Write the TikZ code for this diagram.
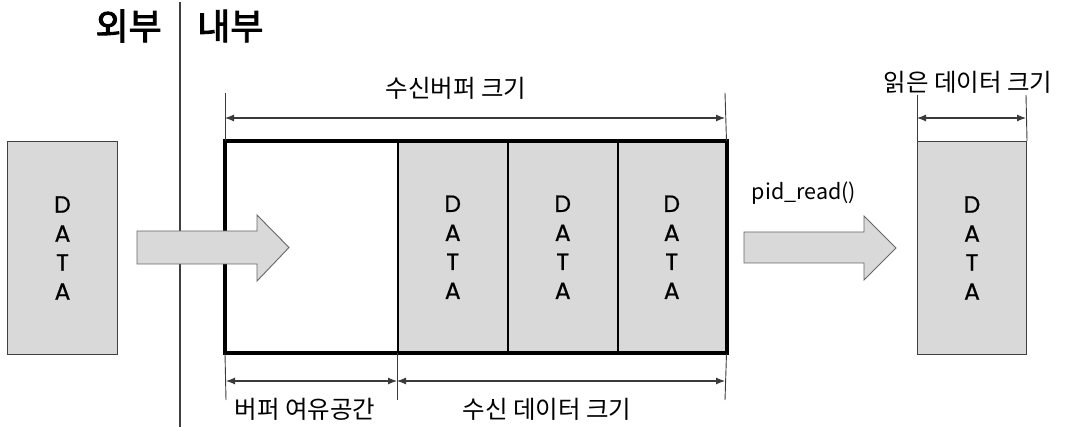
\documentclass[tikz,border=0pt]{standalone}
\usepackage{fontspec}
\setmainfont{Noto Sans CJK KR}
\newfontfamily\krbold[FakeBold=2.5]{Noto Sans CJK KR}
\newfontfamily\datafont[FakeBold=0.6]{Poppins}
\usetikzlibrary{arrows.meta}
\definecolor{boxgray}{HTML}{D9D9D9}
\definecolor{edgegray}{HTML}{404040}
\definecolor{linegray}{HTML}{3A3A3A}
\tikzset{
  databox/.style={draw=edgegray, fill=boxgray, line width=1pt, align=center,
    font=\datafont\fontsize{23.5}{29}\selectfont, inner sep=0pt, anchor=north west},
  emptycell/.style={draw=black, fill=white, line width=1.5pt, inner sep=0pt, anchor=north west},
  blockarrow/.style={draw=edgegray!80, fill=boxgray, line width=0.9pt, line join=miter},
  extline/.style={draw=linegray, line width=0.9pt},
  dimline/.style={draw=linegray, line width=1.1pt, {Latex[length=9pt,width=7pt]}-{Latex[length=9pt,width=7pt]}, shorten <=0pt, shorten >=0pt},
  lbl/.style={font=\fontsize{24.5}{27}\selectfont, inner sep=0pt, text=black},
  hdr/.style={font=\krbold\fontsize{36}{38}\selectfont, inner sep=0pt},
}
\begin{document}
\begin{tikzpicture}[x=1pt,y=-1pt]
\useasboundingbox (0,0) rectangle (1065,427);
% headers and divider
\node[hdr, anchor=east] (outer) at (162,26) {외부};
\node[hdr, anchor=west] (inner) at (197,26) {내부};
\coordinate (divtop) at (180,2);
\coordinate (divbot) at (180,427);
\draw[draw=edgegray, line width=1.3pt] (divtop) -- (divbot);

% left data box
\node[databox, minimum width=110pt, minimum height=213pt] (src) at (7,141) {D\\A\\T\\A};

% buffer cells
\node[emptycell, minimum width=172pt, minimum height=211pt] (free) at (225,141) {};
\node[databox, draw=black, line width=1.5pt, minimum width=110pt, minimum height=211pt] (c1) at (397,141) {D\\A\\T\\A};
\node[databox, draw=black, line width=1.5pt, minimum width=110pt, minimum height=211pt] (c2) at (507,141) {D\\A\\T\\A};
\node[databox, draw=black, line width=1.5pt, minimum width=108pt, minimum height=211pt] (c3) at (617,141) {D\\A\\T\\A};
\draw[line width=4pt, line join=miter] (free.north west) rectangle (c3.south east);

% right data box
\node[databox, minimum width=109pt, minimum height=213pt] (dst) at (917,141) {D\\A\\T\\A};

% block arrows
\draw[blockarrow] (137,231) -- (257,231) -- (257,215) -- (289,247.5) -- (257,281) -- (257,264) -- (137,264) -- cycle;
\draw[blockarrow] (744,232) -- (864,232) -- (864,216) -- (896,248) -- (864,280) -- (864,263) -- (744,263) -- cycle;
\node[lbl, font=\fontsize{21.5}{24}\selectfont] (call) at (804,193) {pid\_read()};

% top dimension: receive buffer size
\coordinate (bt1) at (225,93);
\coordinate (bt2) at (725,93);
\draw[extline] (bt1) -- (free.north west);
\draw[extline] (bt2) -- (c3.north east);
\coordinate (ba1) at (225,118);
\coordinate (ba2) at (725,118);
\draw[dimline] (ba1) -- (ba2);
\node[lbl] (bufsize) at (456,88) {수신버퍼 크기};

% bottom dimensions
\coordinate (e1) at (226,400);
\coordinate (e2) at (397,400);
\coordinate (e3) at (725,400);
\draw[extline] (free.south west) -- (e1);
\draw[extline] (c1.south west) -- (e2);
\draw[extline] (c3.south east) -- (e3);
\coordinate (d1) at (226,381);
\coordinate (d2) at (397,381);
\coordinate (d3) at (725,381);
\draw[dimline] (d1) -- (d2);
\draw[dimline] (d2) -- (d3);
\node[lbl] (freesize) at (305,409) {버퍼 여유공간};
\node[lbl] (datasize) at (547,409) {수신 데이터 크기};

% right dimension: read size
\coordinate (r1) at (917,95);
\coordinate (r2) at (1026,95);
\draw[extline] (r1) -- (dst.north west);
\draw[extline] (r2) -- (dst.north east);
\coordinate (ra1) at (917,118);
\coordinate (ra2) at (1026,118);
\draw[dimline] (ra1) -- (ra2);
\node[lbl] (readsize) at (968,82) {읽은 데이터 크기};
\end{tikzpicture}
\end{document}
